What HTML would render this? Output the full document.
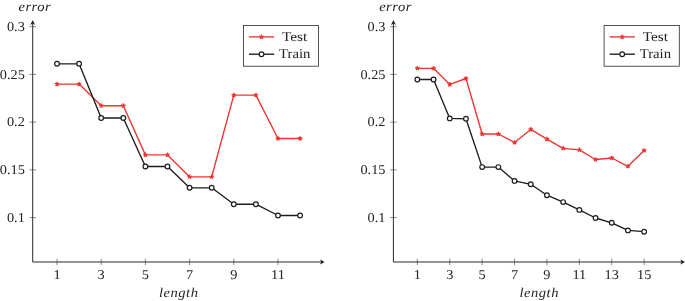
<!DOCTYPE html>
<html lang="en">
<head>
<meta charset="utf-8">
<title>error vs length</title>
<style>
html,body{margin:0;padding:0;background:#fff;}
body{width:685px;height:301px;overflow:hidden;}
svg{display:block;}
text{text-rendering:geometricPrecision;font-family:"Liberation Serif",serif;font-size:13.5px;fill:#242424;}
text.it{font-style:italic;font-size:13.5px;letter-spacing:0.45px;}
</style>
</head>
<body>
<svg width="685" height="301" viewBox="0 0 685 301">
<rect width="685" height="301" fill="#fff"/>
<g>
<path d="M29.40 26.7H36.00M29.40 74.4H36.00M29.40 122.15H36.00M29.40 169.85H36.00M29.40 217.55H36.00M57.00 258.7V265.2M101.20 258.7V265.2M145.40 258.7V265.2M189.60 258.7V265.2M233.80 258.7V265.2M278.00 258.7V265.2" stroke="#5a5a5a" stroke-width="0.7" fill="none"/>
<path d="M32.70 23.5V262H321.60" stroke="#2a2a2a" stroke-width="1" fill="none"/>
<path d="M32.70 20.2L35.20 24.9L32.70 23.4L30.20 24.9Z" fill="#111"/>
<path d="M324.60 262L319.90 264.5L321.40 262L319.90 259.5Z" fill="#111"/>
<g transform="translate(24.80 30.80) scale(1.06 1)"><text text-anchor="end">0.3</text></g>
<g transform="translate(24.80 78.50) scale(1.06 1)"><text text-anchor="end">0.25</text></g>
<g transform="translate(24.80 126.25) scale(1.06 1)"><text text-anchor="end">0.2</text></g>
<g transform="translate(24.80 173.95) scale(1.06 1)"><text text-anchor="end">0.15</text></g>
<g transform="translate(24.80 221.65) scale(1.06 1)"><text text-anchor="end">0.1</text></g>
<g transform="translate(57.00 278.9) scale(1.06 1)"><text text-anchor="middle">1</text></g>
<g transform="translate(101.20 278.9) scale(1.06 1)"><text text-anchor="middle">3</text></g>
<g transform="translate(145.40 278.9) scale(1.06 1)"><text text-anchor="middle">5</text></g>
<g transform="translate(189.60 278.9) scale(1.06 1)"><text text-anchor="middle">7</text></g>
<g transform="translate(233.80 278.9) scale(1.06 1)"><text text-anchor="middle">9</text></g>
<g transform="translate(278.00 278.9) scale(1.06 1)"><text text-anchor="middle">11</text></g>
<g transform="translate(34.80 11.1) scale(1.08 1)"><text text-anchor="middle" class="it">error</text></g>
<g transform="translate(178.75 297.4) scale(1.08 1)"><text text-anchor="middle" class="it">length</text></g>
<path d="M57.00 84.10L79.10 84.10L101.20 105.70L123.30 105.70L145.40 154.90L167.50 154.90L189.60 176.80L211.70 176.80L233.80 95.10L255.90 95.10L278.00 138.50L300.10 138.50" stroke="#ee3430" stroke-width="1.35" fill="none" stroke-linejoin="round"/>
<path d="M57.00 84.10L57.00 81.75M57.00 84.10L59.23 83.37M57.00 84.10L58.38 86.00M57.00 84.10L55.62 86.00M57.00 84.10L54.77 83.37M79.10 84.10L79.10 81.75M79.10 84.10L81.33 83.37M79.10 84.10L80.48 86.00M79.10 84.10L77.72 86.00M79.10 84.10L76.87 83.37M101.20 105.70L101.20 103.35M101.20 105.70L103.43 104.97M101.20 105.70L102.58 107.60M101.20 105.70L99.82 107.60M101.20 105.70L98.97 104.97M123.30 105.70L123.30 103.35M123.30 105.70L125.53 104.97M123.30 105.70L124.68 107.60M123.30 105.70L121.92 107.60M123.30 105.70L121.07 104.97M145.40 154.90L145.40 152.55M145.40 154.90L147.63 154.17M145.40 154.90L146.78 156.80M145.40 154.90L144.02 156.80M145.40 154.90L143.17 154.17M167.50 154.90L167.50 152.55M167.50 154.90L169.73 154.17M167.50 154.90L168.88 156.80M167.50 154.90L166.12 156.80M167.50 154.90L165.27 154.17M189.60 176.80L189.60 174.45M189.60 176.80L191.83 176.07M189.60 176.80L190.98 178.70M189.60 176.80L188.22 178.70M189.60 176.80L187.37 176.07M211.70 176.80L211.70 174.45M211.70 176.80L213.93 176.07M211.70 176.80L213.08 178.70M211.70 176.80L210.32 178.70M211.70 176.80L209.47 176.07M233.80 95.10L233.80 92.75M233.80 95.10L236.03 94.37M233.80 95.10L235.18 97.00M233.80 95.10L232.42 97.00M233.80 95.10L231.57 94.37M255.90 95.10L255.90 92.75M255.90 95.10L258.13 94.37M255.90 95.10L257.28 97.00M255.90 95.10L254.52 97.00M255.90 95.10L253.67 94.37M278.00 138.50L278.00 136.15M278.00 138.50L280.23 137.77M278.00 138.50L279.38 140.40M278.00 138.50L276.62 140.40M278.00 138.50L275.77 137.77M300.10 138.50L300.10 136.15M300.10 138.50L302.33 137.77M300.10 138.50L301.48 140.40M300.10 138.50L298.72 140.40M300.10 138.50L297.87 137.77" stroke="#ee3430" stroke-width="1.4" fill="none"/>
<path d="M57.00 63.80L79.10 63.80L101.20 118.00L123.30 118.00L145.40 166.50L167.50 166.50L189.60 187.80L211.70 187.80L233.80 204.20L255.90 204.20L278.00 215.50L300.10 215.50" stroke="#1c1c1c" stroke-width="1.35" fill="none" stroke-linejoin="round"/>
<circle cx="57.00" cy="63.80" r="2.35" fill="#fff" stroke="#1c1c1c" stroke-width="1.2"/>
<circle cx="79.10" cy="63.80" r="2.35" fill="#fff" stroke="#1c1c1c" stroke-width="1.2"/>
<circle cx="101.20" cy="118.00" r="2.35" fill="#fff" stroke="#1c1c1c" stroke-width="1.2"/>
<circle cx="123.30" cy="118.00" r="2.35" fill="#fff" stroke="#1c1c1c" stroke-width="1.2"/>
<circle cx="145.40" cy="166.50" r="2.35" fill="#fff" stroke="#1c1c1c" stroke-width="1.2"/>
<circle cx="167.50" cy="166.50" r="2.35" fill="#fff" stroke="#1c1c1c" stroke-width="1.2"/>
<circle cx="189.60" cy="187.80" r="2.35" fill="#fff" stroke="#1c1c1c" stroke-width="1.2"/>
<circle cx="211.70" cy="187.80" r="2.35" fill="#fff" stroke="#1c1c1c" stroke-width="1.2"/>
<circle cx="233.80" cy="204.20" r="2.35" fill="#fff" stroke="#1c1c1c" stroke-width="1.2"/>
<circle cx="255.90" cy="204.20" r="2.35" fill="#fff" stroke="#1c1c1c" stroke-width="1.2"/>
<circle cx="278.00" cy="215.50" r="2.35" fill="#fff" stroke="#1c1c1c" stroke-width="1.2"/>
<circle cx="300.10" cy="215.50" r="2.35" fill="#fff" stroke="#1c1c1c" stroke-width="1.2"/>
<rect x="243.40" y="25.5" width="75.2" height="40.7" fill="#fff" stroke="#2a2a2a" stroke-width="0.8"/>
<path d="M248.90 36.9H274.20" stroke="#ee3430" stroke-width="1.35"/>
<path d="M261.50 36.90L261.50 34.55M261.50 36.90L263.73 36.17M261.50 36.90L262.88 38.80M261.50 36.90L260.12 38.80M261.50 36.90L259.27 36.17" stroke="#ee3430" stroke-width="1.4" fill="none"/>
<path d="M248.90 54.2H274.20" stroke="#1c1c1c" stroke-width="1.35"/>
<circle cx="261.50" cy="54.2" r="2.35" fill="#fff" stroke="#1c1c1c" stroke-width="1.2"/>
<text x="294.70" y="41.3" text-anchor="middle" textLength="25.3" lengthAdjust="spacingAndGlyphs">Test</text>
<text x="294.70" y="58.2" text-anchor="middle" textLength="31.3" lengthAdjust="spacingAndGlyphs">Train</text>
</g>
<g>
<path d="M390.10 26.7H396.70M390.10 74.4H396.70M390.10 122.15H396.70M390.10 169.85H396.70M390.10 217.55H396.70M417.35 258.7V265.2M449.75 258.7V265.2M482.15 258.7V265.2M514.55 258.7V265.2M546.95 258.7V265.2M579.35 258.7V265.2M611.75 258.7V265.2M644.15 258.7V265.2" stroke="#5a5a5a" stroke-width="0.7" fill="none"/>
<path d="M393.40 23.5V262H681.90" stroke="#2a2a2a" stroke-width="1" fill="none"/>
<path d="M393.40 20.2L395.90 24.9L393.40 23.4L390.90 24.9Z" fill="#111"/>
<path d="M684.90 262L680.20 264.5L681.70 262L680.20 259.5Z" fill="#111"/>
<g transform="translate(385.50 30.80) scale(1.06 1)"><text text-anchor="end">0.3</text></g>
<g transform="translate(385.50 78.50) scale(1.06 1)"><text text-anchor="end">0.25</text></g>
<g transform="translate(385.50 126.25) scale(1.06 1)"><text text-anchor="end">0.2</text></g>
<g transform="translate(385.50 173.95) scale(1.06 1)"><text text-anchor="end">0.15</text></g>
<g transform="translate(385.50 221.65) scale(1.06 1)"><text text-anchor="end">0.1</text></g>
<g transform="translate(417.35 278.9) scale(1.06 1)"><text text-anchor="middle">1</text></g>
<g transform="translate(449.75 278.9) scale(1.06 1)"><text text-anchor="middle">3</text></g>
<g transform="translate(482.15 278.9) scale(1.06 1)"><text text-anchor="middle">5</text></g>
<g transform="translate(514.55 278.9) scale(1.06 1)"><text text-anchor="middle">7</text></g>
<g transform="translate(546.95 278.9) scale(1.06 1)"><text text-anchor="middle">9</text></g>
<g transform="translate(579.35 278.9) scale(1.06 1)"><text text-anchor="middle">11</text></g>
<g transform="translate(611.75 278.9) scale(1.06 1)"><text text-anchor="middle">13</text></g>
<g transform="translate(644.15 278.9) scale(1.06 1)"><text text-anchor="middle">15</text></g>
<g transform="translate(395.50 11.1) scale(1.08 1)"><text text-anchor="middle" class="it">error</text></g>
<g transform="translate(539.25 297.4) scale(1.08 1)"><text text-anchor="middle" class="it">length</text></g>
<path d="M417.35 68.30L433.55 68.30L449.75 84.40L465.95 78.50L482.15 134.00L498.35 134.00L514.55 142.50L530.75 129.40L546.95 139.20L563.15 148.30L579.35 149.80L595.55 159.50L611.75 158.00L627.95 166.30L644.15 150.50" stroke="#ee3430" stroke-width="1.35" fill="none" stroke-linejoin="round"/>
<path d="M417.35 68.30L417.35 65.95M417.35 68.30L419.58 67.57M417.35 68.30L418.73 70.20M417.35 68.30L415.97 70.20M417.35 68.30L415.12 67.57M433.55 68.30L433.55 65.95M433.55 68.30L435.78 67.57M433.55 68.30L434.93 70.20M433.55 68.30L432.17 70.20M433.55 68.30L431.32 67.57M449.75 84.40L449.75 82.05M449.75 84.40L451.98 83.67M449.75 84.40L451.13 86.30M449.75 84.40L448.37 86.30M449.75 84.40L447.52 83.67M465.95 78.50L465.95 76.15M465.95 78.50L468.18 77.77M465.95 78.50L467.33 80.40M465.95 78.50L464.57 80.40M465.95 78.50L463.72 77.77M482.15 134.00L482.15 131.65M482.15 134.00L484.38 133.27M482.15 134.00L483.53 135.90M482.15 134.00L480.77 135.90M482.15 134.00L479.92 133.27M498.35 134.00L498.35 131.65M498.35 134.00L500.58 133.27M498.35 134.00L499.73 135.90M498.35 134.00L496.97 135.90M498.35 134.00L496.12 133.27M514.55 142.50L514.55 140.15M514.55 142.50L516.78 141.77M514.55 142.50L515.93 144.40M514.55 142.50L513.17 144.40M514.55 142.50L512.32 141.77M530.75 129.40L530.75 127.05M530.75 129.40L532.98 128.67M530.75 129.40L532.13 131.30M530.75 129.40L529.37 131.30M530.75 129.40L528.52 128.67M546.95 139.20L546.95 136.85M546.95 139.20L549.18 138.47M546.95 139.20L548.33 141.10M546.95 139.20L545.57 141.10M546.95 139.20L544.72 138.47M563.15 148.30L563.15 145.95M563.15 148.30L565.38 147.57M563.15 148.30L564.53 150.20M563.15 148.30L561.77 150.20M563.15 148.30L560.92 147.57M579.35 149.80L579.35 147.45M579.35 149.80L581.58 149.07M579.35 149.80L580.73 151.70M579.35 149.80L577.97 151.70M579.35 149.80L577.12 149.07M595.55 159.50L595.55 157.15M595.55 159.50L597.78 158.77M595.55 159.50L596.93 161.40M595.55 159.50L594.17 161.40M595.55 159.50L593.32 158.77M611.75 158.00L611.75 155.65M611.75 158.00L613.98 157.27M611.75 158.00L613.13 159.90M611.75 158.00L610.37 159.90M611.75 158.00L609.52 157.27M627.95 166.30L627.95 163.95M627.95 166.30L630.18 165.57M627.95 166.30L629.33 168.20M627.95 166.30L626.57 168.20M627.95 166.30L625.72 165.57M644.15 150.50L644.15 148.15M644.15 150.50L646.38 149.77M644.15 150.50L645.53 152.40M644.15 150.50L642.77 152.40M644.15 150.50L641.92 149.77" stroke="#ee3430" stroke-width="1.4" fill="none"/>
<path d="M417.35 79.50L433.55 79.50L449.75 118.40L465.95 118.80L482.15 167.10L498.35 167.10L514.55 180.90L530.75 184.30L546.95 195.20L563.15 202.10L579.35 209.90L595.55 218.00L611.75 222.80L627.95 230.40L644.15 231.70" stroke="#1c1c1c" stroke-width="1.35" fill="none" stroke-linejoin="round"/>
<circle cx="417.35" cy="79.50" r="2.35" fill="#fff" stroke="#1c1c1c" stroke-width="1.2"/>
<circle cx="433.55" cy="79.50" r="2.35" fill="#fff" stroke="#1c1c1c" stroke-width="1.2"/>
<circle cx="449.75" cy="118.40" r="2.35" fill="#fff" stroke="#1c1c1c" stroke-width="1.2"/>
<circle cx="465.95" cy="118.80" r="2.35" fill="#fff" stroke="#1c1c1c" stroke-width="1.2"/>
<circle cx="482.15" cy="167.10" r="2.35" fill="#fff" stroke="#1c1c1c" stroke-width="1.2"/>
<circle cx="498.35" cy="167.10" r="2.35" fill="#fff" stroke="#1c1c1c" stroke-width="1.2"/>
<circle cx="514.55" cy="180.90" r="2.35" fill="#fff" stroke="#1c1c1c" stroke-width="1.2"/>
<circle cx="530.75" cy="184.30" r="2.35" fill="#fff" stroke="#1c1c1c" stroke-width="1.2"/>
<circle cx="546.95" cy="195.20" r="2.35" fill="#fff" stroke="#1c1c1c" stroke-width="1.2"/>
<circle cx="563.15" cy="202.10" r="2.35" fill="#fff" stroke="#1c1c1c" stroke-width="1.2"/>
<circle cx="579.35" cy="209.90" r="2.35" fill="#fff" stroke="#1c1c1c" stroke-width="1.2"/>
<circle cx="595.55" cy="218.00" r="2.35" fill="#fff" stroke="#1c1c1c" stroke-width="1.2"/>
<circle cx="611.75" cy="222.80" r="2.35" fill="#fff" stroke="#1c1c1c" stroke-width="1.2"/>
<circle cx="627.95" cy="230.40" r="2.35" fill="#fff" stroke="#1c1c1c" stroke-width="1.2"/>
<circle cx="644.15" cy="231.70" r="2.35" fill="#fff" stroke="#1c1c1c" stroke-width="1.2"/>
<rect x="604.10" y="25.5" width="75.2" height="40.7" fill="#fff" stroke="#2a2a2a" stroke-width="0.8"/>
<path d="M609.60 36.9H634.90" stroke="#ee3430" stroke-width="1.35"/>
<path d="M622.20 36.90L622.20 34.55M622.20 36.90L624.43 36.17M622.20 36.90L623.58 38.80M622.20 36.90L620.82 38.80M622.20 36.90L619.97 36.17" stroke="#ee3430" stroke-width="1.4" fill="none"/>
<path d="M609.60 54.2H634.90" stroke="#1c1c1c" stroke-width="1.35"/>
<circle cx="622.20" cy="54.2" r="2.35" fill="#fff" stroke="#1c1c1c" stroke-width="1.2"/>
<text x="655.40" y="41.3" text-anchor="middle" textLength="25.3" lengthAdjust="spacingAndGlyphs">Test</text>
<text x="655.40" y="58.2" text-anchor="middle" textLength="31.3" lengthAdjust="spacingAndGlyphs">Train</text>
</g>
</svg>
</body>
</html>
